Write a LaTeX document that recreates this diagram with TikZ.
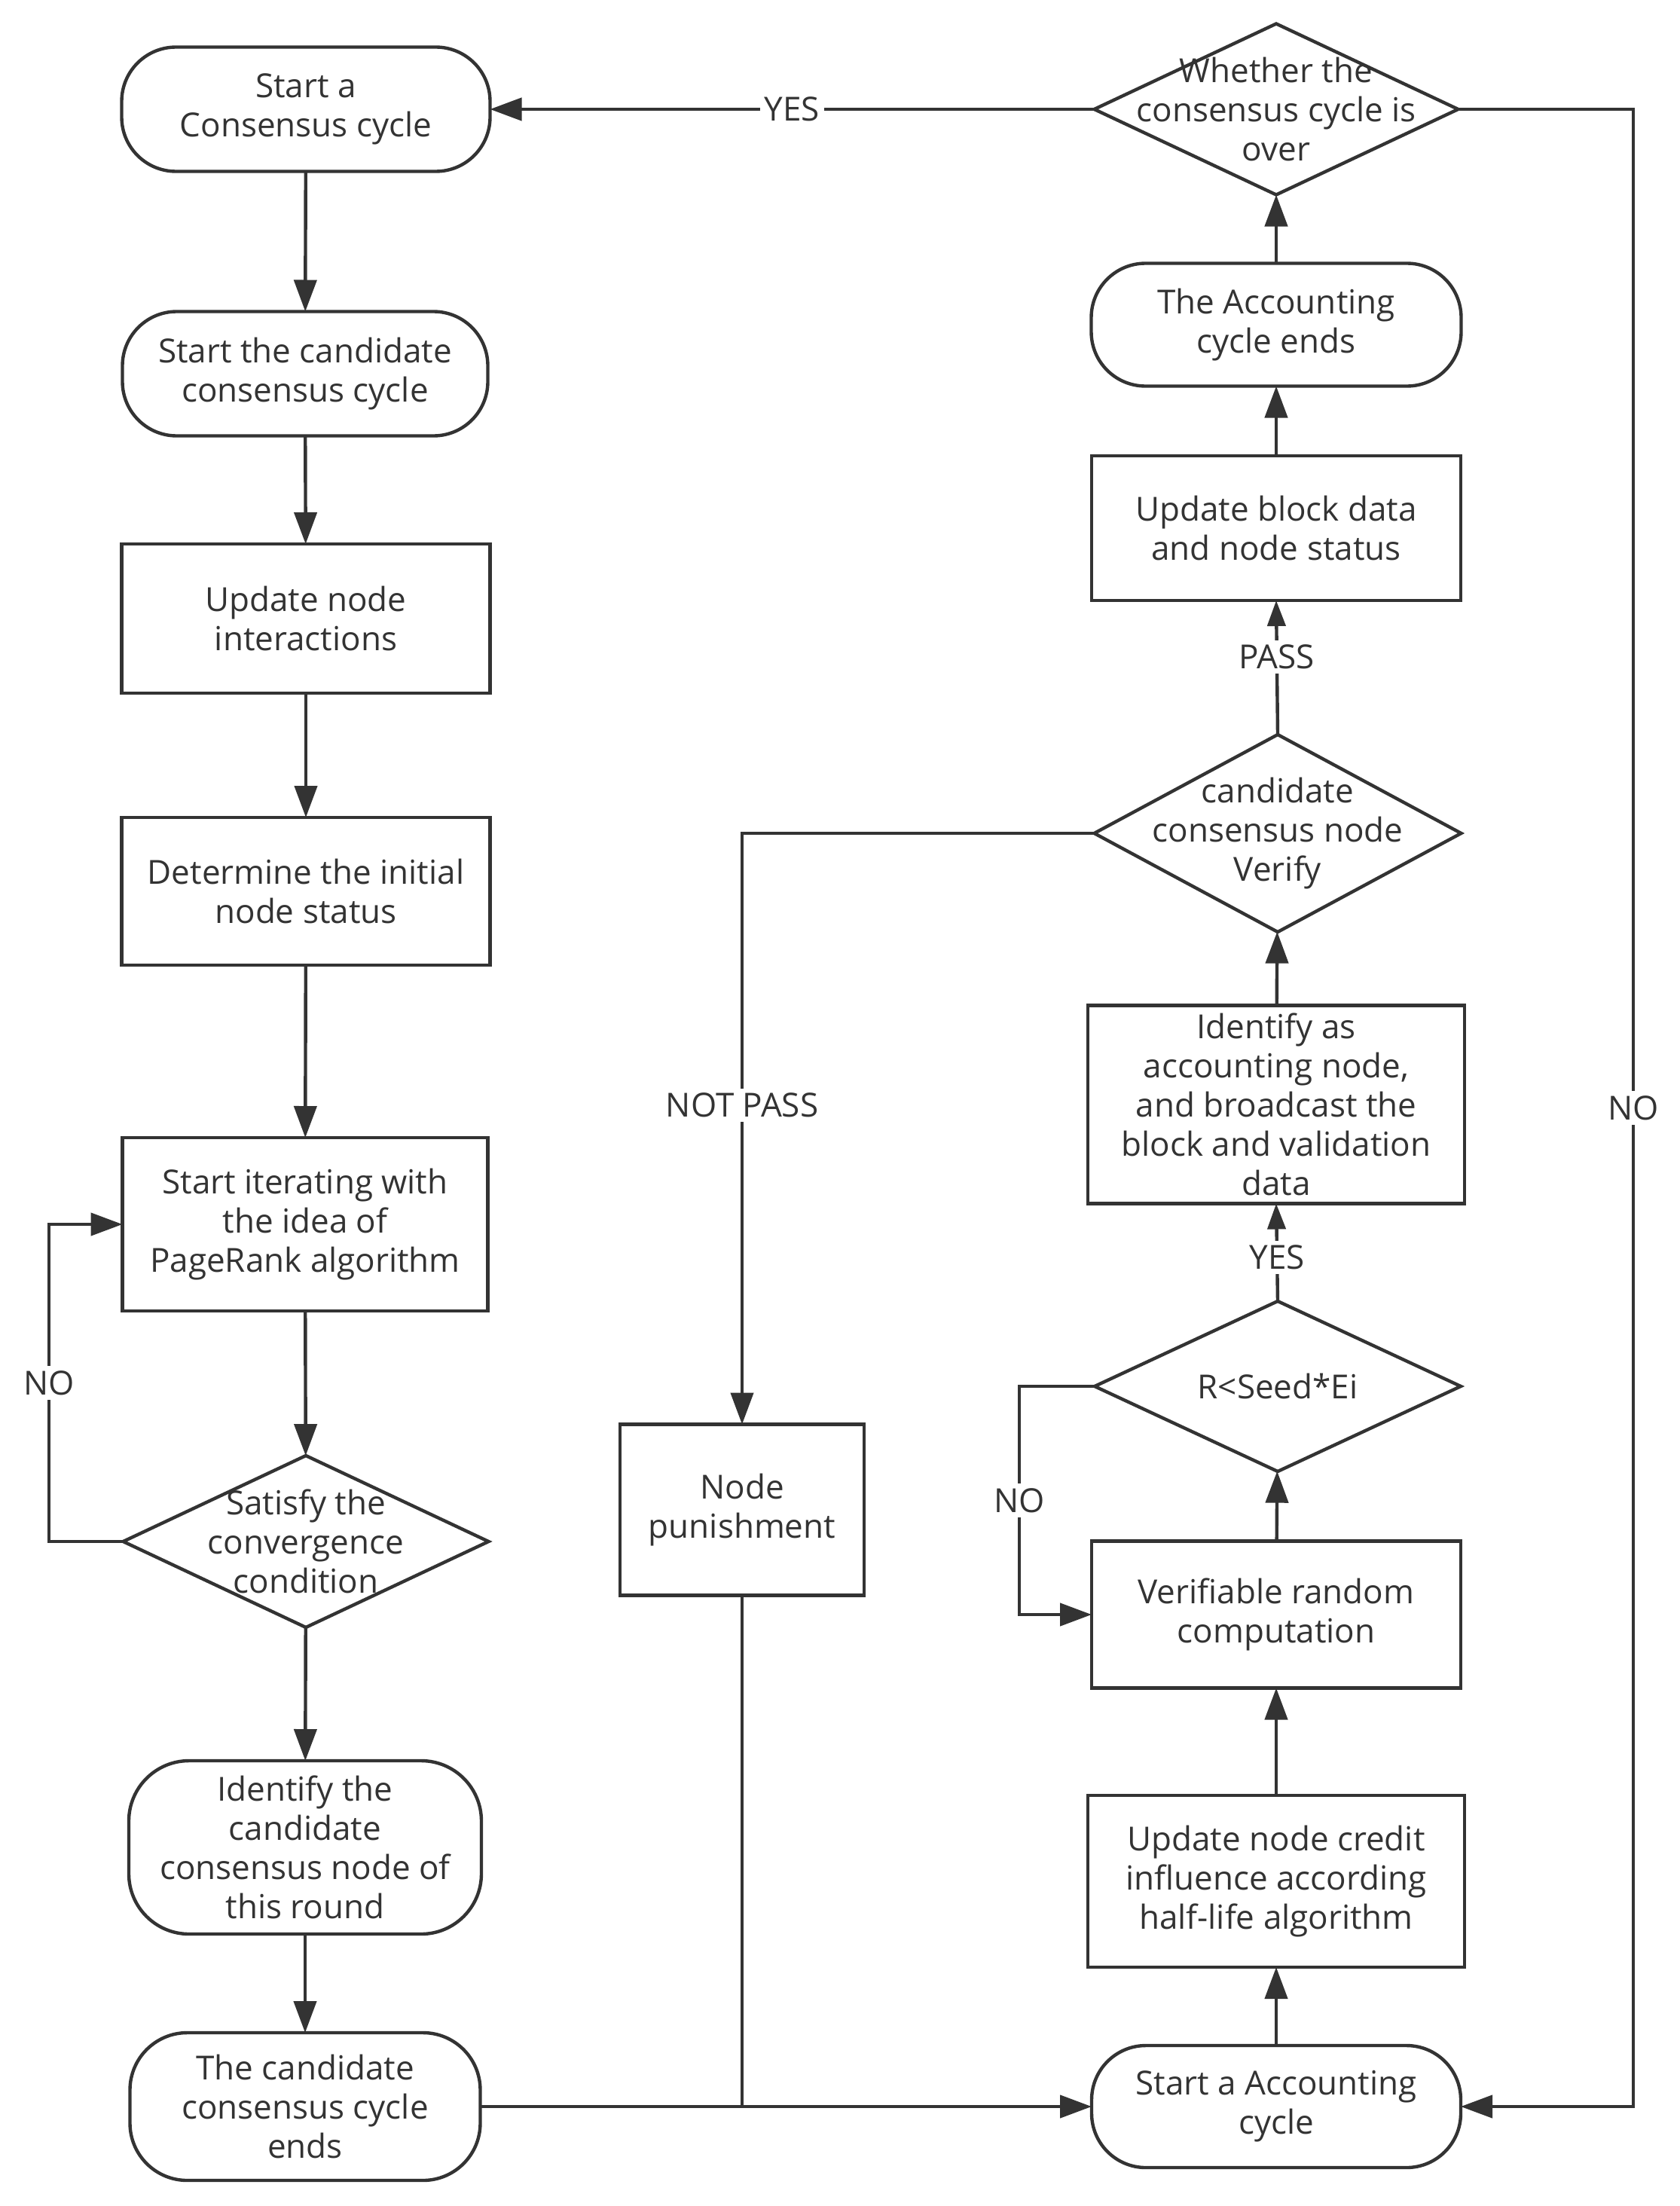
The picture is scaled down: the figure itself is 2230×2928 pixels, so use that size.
\documentclass[tikz,border=0pt]{standalone}
\usepackage{fontspec}
\setmainfont{Open Sans}
\usetikzlibrary{shapes.geometric,arrows.meta}
\definecolor{lc}{HTML}{333333}
\definecolor{tc}{HTML}{333333}
\newcommand\flowfont{\fontsize{22pt}{26pt}\selectfont}
\tikzset{
  base/.style={draw=lc, line width=2.2pt, text=tc, font=\flowfont, align=center, inner sep=0pt, outer sep=0pt},
  term/.style={base, rounded corners=36pt},
  proc/.style={base},
  dia/.style={base, shape=diamond},
  dtext/.style={text=tc, font=\flowfont, align=center, inner sep=0pt},
  lbl/.style={fill=white, text=tc, font=\flowfont, inner sep=3pt},
  arr/.style={draw=lc, line width=2.2pt, -{Triangle[length=21pt,width=15pt]}},
  arrs/.style={draw=lc, line width=2.2pt, -{Triangle[length=17pt,width=12pt]}},
  ln/.style={draw=lc, line width=2.2pt},
}
\begin{document}
\begin{tikzpicture}[x=0.5pt,y=-0.5pt]
\useasboundingbox (0,0) rectangle (2230,2928);
% left column
\node[term, minimum width=244.5pt, minimum height=82.5pt] (start) at (406,145) {Start a\\Consensus cycle};
\node[term, minimum width=242.5pt, minimum height=82.5pt] (cand) at (405,496) {Start the candidate\\consensus cycle};
\node[proc, minimum width=244.5pt, minimum height=99pt] (upd) at (406,821) {Update node\\interactions};
\node[proc, minimum width=244.5pt, minimum height=98pt] (det) at (406,1183) {Determine the initial\\node status};
\node[proc, minimum width=242.5pt, minimum height=115pt] (iter) at (405,1625) {Start iterating with\\the idea of\\PageRank algorithm};
\node[dia, minimum width=242.5pt, minimum height=114pt] (sat) at (406,2046) {};
\node[dtext] (satT) at (sat) {Satisfy the\\convergence\\condition};
\node[term, minimum width=234pt, minimum height=115pt, rounded corners=40pt] (ident) at (405,2452) {Identify the\\candidate\\consensus node of\\this round};
\node[term, minimum width=232.5pt, minimum height=98pt, rounded corners=38pt] (cend) at (405,2796) {The candidate\\consensus cycle\\ends};
% middle
\node[proc, minimum width=162pt, minimum height=113.5pt] (pun) at (985,2004) {Node\\punishment};
% right column
\node[dia, minimum width=241.5pt, minimum height=113.5pt] (whe) at (1694,145) {};
\node[dtext] (wheT) at (whe) {Whether the\\consensus cycle is\\over};
\node[term, minimum width=245.5pt, minimum height=81.5pt] (aend) at (1694,431) {The Accounting\\cycle ends};
\node[proc, minimum width=245pt, minimum height=96pt] (ublock) at (1694,701) {Update block data\\and node status};
\node[dia, minimum width=243.5pt, minimum height=131pt] (ver) at (1696,1106) {};
\node[dtext] (verT) at (ver) {candidate\\consensus node\\Verify};
\node[proc, minimum width=250pt, minimum height=131.5pt] (acct) at (1694,1466) {Identify as\\accounting node,\\and broadcast the\\block and validation\\data};
\node[dia, minimum width=243pt, minimum height=113pt] (rs) at (1696,1840) {};
\node[dtext] (rsT) at (rs) {R<Seed*Ei};
\node[proc, minimum width=245pt, minimum height=97.5pt] (vrc) at (1694,2143) {Verifiable random\\computation};
\node[proc, minimum width=250pt, minimum height=114pt] (cred) at (1694,2497) {Update node credit\\influence according\\half-life algorithm};
\node[term, minimum width=245pt, minimum height=81pt] (sacc) at (1694,2796) {Start a Accounting\\cycle};
% left column arrows
\draw[arr] (start) -- (cand);
\draw[arr] (cand) -- (upd);
\draw[arr] (upd) -- (det);
\draw[arr] (det) -- (iter);
\draw[arr] (iter) -- (sat);
\draw[arr] (sat) -- (ident);
\draw[arr] (ident) -- (cend);
\draw[arr] (sat.west) -- (65,2046) -- node[lbl]{NO} (65,1625) -- (iter.west);
% bottom connection
\draw[arr] (cend.east) -- (sacc.west);
\draw[ln] (pun.south) -- (pun.south |- cend.east);
% right column arrows
\draw[arr] (sacc) -- (cred);
\draw[arr] (cred) -- (vrc);
\draw[arr] (vrc) -- (rs);
\draw[arrs] (rs.north) -- node[lbl, pos=0.45]{YES} (acct.south);
\draw[arr] (acct) -- (ver);
\draw[arrs] (ver.north) -- node[lbl, pos=0.58]{PASS} (ublock.south);
\draw[arr] (ublock) -- (aend);
\draw[arr] (aend) -- (whe);
\draw[arr] (whe.west) -- node[lbl]{YES} (start.east);
\draw[arr] (whe.east) -- (2168,145) -- node[lbl]{NO} (2168,2796) -- (sacc.east);
\draw[arr] (rs.west) -- (1353,1840) -- node[lbl]{NO} (1353,2143) -- (vrc.west);
\draw[arr] (ver.west) -- (pun.north |- ver.west) -- node[lbl, pos=0.46]{NOT PASS} (pun.north);
\end{tikzpicture}
\end{document}
